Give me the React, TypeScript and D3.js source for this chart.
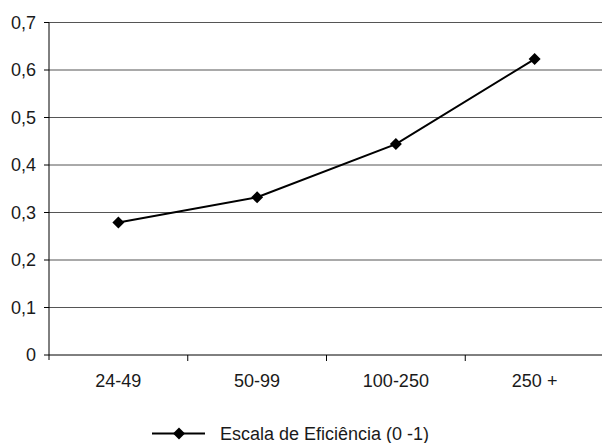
import React from "react";
import * as d3 from "d3";

const categories = ["24-49", "50-99", "100-250", "250 +"];
const values = [0.279, 0.332, 0.444, 0.623];
const yTicks = [0, 0.1, 0.2, 0.3, 0.4, 0.5, 0.6, 0.7];
const seriesName = "Escala de Eficiência (0 -1)";

const W = 602;
const H = 443;
const M = { left: 49, right: 604, top: 22.5, bottom: 355 };

export default function App() {
  const x = d3.scaleBand<string>().domain(categories).range([M.left, M.right]);
  const y = d3.scaleLinear().domain([0, 0.7]).range([M.bottom, M.top]);
  const line = d3
    .line<number>()
    .x((_, i) => (x(categories[i]) as number) + x.bandwidth() / 2)
    .y((d) => y(d));
  const fmt = (v: number) => (v === 0 ? "0" : v.toFixed(1).replace(".", ","));
  const diamond = (cx: number, cy: number, r = 6) =>
    `M${cx},${cy - r}L${cx + r},${cy}L${cx},${cy + r}L${cx - r},${cy}Z`;
  const font = "'Liberation Sans', Arial, sans-serif";
  const fs = 18;

  return (
    <svg
      width={W}
      height={H}
      style={{ position: "absolute", left: 0, top: 0, background: "#fff" }}
      fontFamily={font}
    >
      {yTicks.map((t) => (
        <g key={t}>
          {t > 0 && (
            <line x1={M.left} x2={M.right} y1={y(t)} y2={y(t)} stroke="#555" strokeWidth={1} />
          )}
          <line x1={M.left - 5} x2={M.left} y1={y(t)} y2={y(t)} stroke="#000" strokeWidth={1} />
          <text x={36} y={y(t)} dy="0.35em" textAnchor="end" fontSize={fs} fill="#1a1a1a">
            {fmt(t)}
          </text>
        </g>
      ))}
      <line x1={M.left} x2={M.left} y1={M.top} y2={M.bottom + 5} stroke="#000" strokeWidth={1} />
      <line x1={M.left} x2={M.right} y1={M.bottom} y2={M.bottom} stroke="#000" strokeWidth={1} />
      {categories.map((c, i) => (
        <g key={c}>
          {i > 0 && (
            <line
              x1={x(c) as number}
              x2={x(c) as number}
              y1={M.bottom}
              y2={M.bottom + 6}
              stroke="#000"
              strokeWidth={1}
            />
          )}
          <text
            x={(x(c) as number) + x.bandwidth() / 2}
            y={387}
            textAnchor="middle"
            fontSize={fs}
            fill="#1a1a1a"
          >
            {c}
          </text>
        </g>
      ))}
      <path d={line(values) || ""} fill="none" stroke="#000" strokeWidth={2} />
      {values.map((v, i) => (
        <path
          key={i}
          d={diamond((x(categories[i]) as number) + x.bandwidth() / 2, y(v))}
          fill="#000"
        />
      ))}
      <line x1={152} x2={205} y1={433.5} y2={433.5} stroke="#000" strokeWidth={2} />
      <path d={diamond(179, 433.5)} fill="#000" />
      <text x={220} y={439.5} fontSize={fs} fill="#1a1a1a">
        {seriesName}
      </text>
    </svg>
  );
}
